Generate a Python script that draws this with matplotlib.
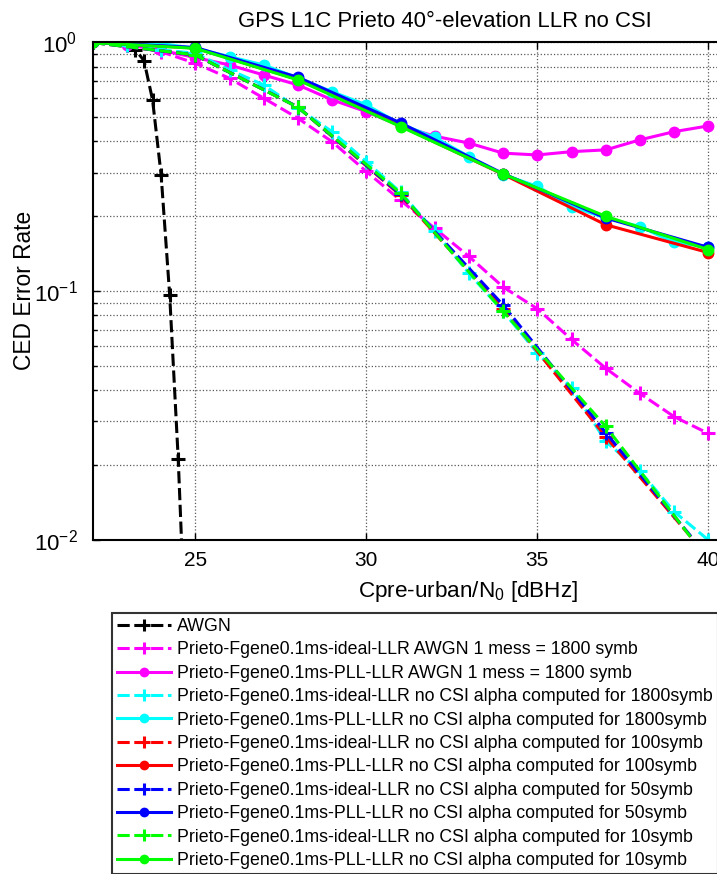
import numpy as np
import matplotlib
matplotlib.use('Agg')
import matplotlib.pyplot as plt

plt.rcParams['font.family'] = ['Liberation Sans', 'DejaVu Sans']
plt.rcParams['mathtext.fontset'] = 'custom'
plt.rcParams['mathtext.rm'] = 'Liberation Sans'
plt.rcParams['mathtext.it'] = 'Liberation Sans:italic'
plt.rcParams['mathtext.default'] = 'regular'

# C/N0 grids
snr_awgn = [22, 23, 23.25, 23.5, 23.75, 24, 24.25, 24.5, 24.75]
snr_1db = [22, 23, 24, 25, 26, 27, 28, 29, 30, 31, 32, 33, 34, 35, 36, 37, 38, 39, 40]
snr_3db = [22, 25, 28, 31, 34, 37, 40]

# error rates
awgn = [1.0, 0.98, 0.935, 0.845, 0.588, 0.294, 0.0968, 0.0212, 0.003]
ideal_awgn = [1.0, 0.975, 0.918, 0.825, 0.718, 0.597, 0.496, 0.399, 0.303, 0.232,
              0.179, 0.138, 0.104, 0.085, 0.064, 0.049, 0.0388, 0.0313, 0.0268]
pll_awgn = [1.0, 0.98, 0.93, 0.87, 0.812, 0.74, 0.675, 0.588, 0.527, 0.462,
            0.42, 0.394, 0.359, 0.353, 0.364, 0.370, 0.406, 0.438, 0.462]
ideal_1800 = [1.0, 0.98, 0.933, 0.905, 0.776, 0.675, 0.544, 0.438, 0.332, 0.25,
              0.174, 0.118, 0.083, 0.0565, 0.0409, 0.0249, 0.0189, 0.0130, 0.0100]
pll_1800 = [1.0, 1.0, 0.99, 0.947, 0.877, 0.812, 0.72, 0.634, 0.561, 0.47,
            0.415, 0.348, 0.294, 0.264, 0.219, 0.197, 0.182, 0.157, 0.151]
ideal_100 = [1.0, 0.89, 0.55, 0.243, 0.085, 0.026, 0.0085]
pll_100 = [1.0, 0.95, 0.71, 0.462, 0.295, 0.185, 0.143]
ideal_50 = [1.0, 0.89, 0.55, 0.245, 0.088, 0.027, 0.0085]
pll_50 = [1.0, 0.955, 0.725, 0.475, 0.297, 0.197, 0.150]
ideal_10 = [1.0, 0.891, 0.549, 0.248, 0.083, 0.0286, 0.0083]
pll_10 = [1.0, 0.947, 0.707, 0.459, 0.296, 0.200, 0.147]

labels = ['AWGN',
          'Prieto-Fgene0.1ms-ideal-LLR AWGN 1 mess = 1800 symb',
          'Prieto-Fgene0.1ms-PLL-LLR AWGN 1 mess = 1800 symb',
          'Prieto-Fgene0.1ms-ideal-LLR no CSI alpha computed for 1800symb',
          'Prieto-Fgene0.1ms-PLL-LLR no CSI alpha computed for 1800symb',
          'Prieto-Fgene0.1ms-ideal-LLR no CSI alpha computed for 100symb',
          'Prieto-Fgene0.1ms-PLL-LLR no CSI alpha computed for 100symb',
          'Prieto-Fgene0.1ms-ideal-LLR no CSI alpha computed for 50symb',
          'Prieto-Fgene0.1ms-PLL-LLR no CSI alpha computed for 50symb',
          'Prieto-Fgene0.1ms-ideal-LLR no CSI alpha computed for 10symb',
          'Prieto-Fgene0.1ms-PLL-LLR no CSI alpha computed for 10symb']

mag = (1, 0, 1)
cya = (0, 1, 1)
grn = (0, 1, 0)

fig = plt.figure(figsize=(7.17, 8.74), dpi=100)
# axes runs past the right edge like the cropped original
ax = fig.add_axes([0.1293, 0.3822, 0.954, 0.5692])

lw = 2.2
dash = (4, 1.5)
series = [
    (snr_awgn, awgn, 'k', '--', '+'),
    (snr_1db, ideal_awgn, mag, '--', '+'),
    (snr_1db, pll_awgn, mag, '-', 'o'),
    (snr_1db, ideal_1800, cya, '--', '+'),
    (snr_1db, pll_1800, cya, '-', 'o'),
    (snr_3db, ideal_100, 'r', '--', '+'),
    (snr_3db, pll_100, 'r', '-', 'o'),
    (snr_3db, ideal_50, 'b', '--', '+'),
    (snr_3db, pll_50, 'b', '-', 'o'),
    (snr_3db, ideal_10, grn, '--', '+'),
    (snr_3db, pll_10, grn, '-', 'o'),
]
for (x, y, c, ls, mk), lab in zip(series, labels):
    if mk == '+':
        ln, = ax.semilogy(x, y, color=c, ls=ls, lw=lw, marker='+', ms=10, mew=2.2, label=lab)
    else:
        ln, = ax.semilogy(x, y, color=c, ls=ls, lw=lw, marker='o', ms=7.5, mew=1, label=lab)
    if ls == '--':
        ln.set_dashes(dash)

ax.set_xlim(22, 42)
ax.set_ylim(1e-2, 1)
ax.set_xticks([25, 30, 35, 40])
ax.grid(True, which='major', color='0.35', ls=':', lw=0.9)
ax.grid(True, which='minor', axis='y', color='0.35', ls=':', lw=0.9)
ax.tick_params(which='both', direction='in', top=True, right=True, width=1)
ax.tick_params(which='major', length=5)
ax.tick_params(which='minor', length=3)
ax.tick_params(axis='y', which='major', labelsize=16, pad=11)
ax.tick_params(axis='x', which='major', labelsize=15, pad=8)
for s in ax.spines.values():
    s.set_linewidth(1.5)

fig.text(445 / 717, 1 - 26.7 / 874, 'GPS L1C Prieto 40°-elevation LLR no CSI',
         fontsize=15.9, ha='center', va='baseline')
fig.text(468 / 717, 1 - 592 / 874, 'Cpre-urban/N$_0$ [dBHz]',
         fontsize=16.2, ha='center', va='center')
fig.text(25 / 717, 1 - 290 / 874, 'CED Error Rate', rotation=90,
         fontsize=16.4, ha='center', va='center')

leg = fig.legend(loc='upper left', bbox_to_anchor=(112 / 717, 1 - 612.7 / 874),
                 borderaxespad=0, fontsize=12.8, handlelength=3.0, handletextpad=0.35,
                 borderpad=0.3, labelspacing=0.36, numpoints=1, fancybox=False,
                 frameon=True, markerscale=0.8)
leg.get_frame().set_edgecolor('k')
leg.get_frame().set_linewidth(1.5)

fig.savefig('out.png', dpi=100)
